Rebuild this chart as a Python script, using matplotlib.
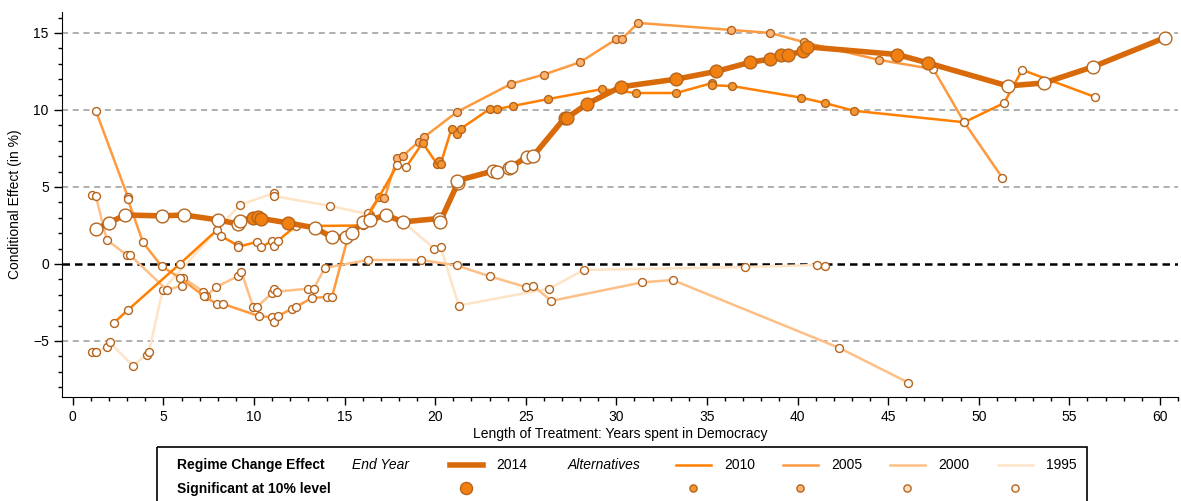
import matplotlib
matplotlib.use('Agg')
import matplotlib.pyplot as plt
from matplotlib.patches import Rectangle
from matplotlib.ticker import MultipleLocator
import numpy as np

plt.rcParams['font.family'] = ['Liberation Sans', 'DejaVu Sans']

# ---- data (x = years in democracy, y = effect in %) ----
x2014 = [1.27, 1.99, 2.87, 4.91, 6.13, 8.0, 9.1, 9.2, 9.93, 10.2, 10.4, 11.9, 13.36, 14.3, 15.1,
         15.4, 16.0, 16.4, 17.3, 18.2, 20.2, 20.25, 21.25, 21.2, 23.2, 23.4, 24.1, 24.2, 25.05,
         25.4, 27.15, 27.26, 28.4, 30.24, 33.3, 35.5, 37.4, 38.5, 39.1, 39.5, 40.3, 40.5, 45.5,
         47.2, 51.6, 53.6, 56.3, 60.3]
y2014 = [2.27, 2.66, 3.18, 3.12, 3.18, 2.86, 2.6, 2.8, 3.0, 3.05, 2.95, 2.66, 2.34, 1.75, 1.75,
         2.0, 2.7, 2.86, 3.18, 2.73, 2.95, 2.7, 5.26, 5.4, 6.04, 5.97, 6.23, 6.3, 6.95,
         7.0, 9.48, 9.48, 10.4, 11.5, 12.0, 12.5, 13.1, 13.3, 13.6, 13.6, 13.8, 14.1, 13.6,
         13.05, 11.56, 11.75, 12.8, 14.7]
s2014 = [0, 0, 0, 0, 0, 0, 0, 0, 1, 1, 1, 1, 0, 0, 0,
         0, 0, 0, 0, 0, 0, 0, 0, 0, 0, 0, 0, 0, 0,
         0, 1, 1, 1, 1, 1, 1, 1, 1, 1, 1, 1, 1, 1,
         1, 0, 0, 0, 0]

x2010 = [2.26, 3.03, 5.9, 7.95, 8.2, 9.1, 9.1, 10.15, 10.4, 11.0, 11.1, 11.3, 12.3, 16.0, 17.9,
         18.4, 19.3, 20.1, 20.2, 20.3, 20.9, 21.2, 21.4, 23.0, 23.4, 24.3, 26.2, 29.2, 31.1,
         33.3, 35.3, 35.3, 36.4, 40.2, 41.5, 43.1, 49.2, 51.4, 52.4, 56.4]
y2010 = [-3.83, -3.0, 0.0, 2.2, 1.8, 1.2, 1.1, 1.43, 1.1, 1.5, 1.17, 1.5, 2.45, 2.5, 6.4,
         6.3, 7.86, 6.5, 6.7, 6.5, 8.77, 8.44, 8.77, 10.06, 10.06, 10.26, 10.7, 11.35, 11.1,
         11.1, 11.75, 11.6, 11.55, 10.8, 10.45, 9.95, 9.2, 10.45, 12.6, 10.85]
s2010 = [0, 0, 0, 0, 0, 0, 0, 0, 0, 0, 0, 0, 0, 0, 0,
         0, 1, 1, 1, 1, 1, 1, 1, 1, 1, 1, 1, 1, 1,
         1, 1, 1, 1, 1, 1, 1, 0, 0, 0, 0]

x2005 = [1.27, 3.03, 3.03, 3.87, 4.9, 5.9, 7.25, 7.95, 8.3, 10.3, 11.0, 11.1, 11.3, 12.1, 12.3,
         13.2, 14.0, 14.3, 15.2, 16.3, 16.9, 17.2, 17.9, 18.2, 19.1, 19.4, 21.2, 24.2, 26.0,
         28.0, 30.0, 30.3, 31.2, 36.3, 38.5, 40.35, 44.5, 47.5, 49.2, 51.3]
y2005 = [9.94, 4.37, 4.2, 1.4, -0.15, -0.9, -2.1, -2.6, -2.6, -3.4, -3.45, -3.75, -3.4, -2.9, -2.8,
         -2.2, -2.15, -2.15, 1.8, 3.3, 4.35, 4.25, 6.9, 7.0, 7.95, 8.25, 9.87, 11.7, 12.3,
         13.1, 14.6, 14.6, 15.65, 15.2, 15.0, 14.4, 13.25, 12.65, 9.2, 5.6]
s2005 = [0, 0, 0, 0, 0, 0, 0, 0, 0, 0, 0, 0, 0, 0, 0,
         0, 0, 0, 0, 0, 1, 1, 1, 1, 1, 1, 1, 1, 1,
         1, 1, 1, 1, 1, 1, 1, 1, 0, 0, 0]

x2000 = [1.05, 1.27, 1.87, 2.98, 3.15, 5.2, 6.0, 6.1, 7.2, 7.35, 7.9, 9.1, 9.3, 9.95, 10.15,
         11.0, 11.1, 11.25, 13.0, 13.3, 13.9, 16.3, 19.2, 21.2, 23.0, 25.0, 25.4, 26.4, 31.4,
         33.1, 42.3, 46.1]
y2000 = [4.5, 4.4, 1.56, 0.58, 0.58, -1.7, -1.4, -0.9, -1.8, -2.1, -1.5, -0.8, -0.5, -2.8, -2.8,
         -1.9, -1.6, -1.8, -1.6, -1.6, -0.26, 0.26, 0.26, -0.1, -0.8, -1.5, -1.4, -2.4, -1.2,
         -1.04, -5.45, -7.7]
s2000 = [0] * len(x2000)

x1995 = [1.05, 1.27, 1.87, 2.04, 3.3, 4.08, 4.2, 4.95, 9.2, 11.1, 11.1, 14.2, 16.4, 18.2, 19.95,
         20.3, 21.3, 26.3, 28.2, 37.1, 41.05, 41.5]
y1995 = [-5.7, -5.7, -5.4, -5.1, -6.6, -5.9, -5.7, -1.7, 3.83, 4.6, 4.4, 3.77, 3.2, 2.75, 1.0,
         1.1, -2.7, -1.6, -0.39, -0.2, -0.07, -0.13]
s1995 = [0] * len(x1995)

edge = '#b5651d'
# label, x, y, sig, line colour, fill colour, line width, marker size
series = [
    ('1995', x1995, y1995, s1995, '#fee3c6', '#fff4ea', 1.8, 5.7),
    ('2000', x2000, y2000, s2000, '#fdbf86', '#fde2c9', 1.8, 5.7),
    ('2005', x2005, y2005, s2005, '#fd9a40', '#fdb373', 1.8, 5.7),
    ('2010', x2010, y2010, s2010, '#ff7f00', '#f5952e', 1.8, 5.7),
    ('2014', x2014, y2014, s2014, '#d86a0a', '#f28010', 4.0, 9.2),
]

fig = plt.figure(figsize=(11.81, 5.01), dpi=100)
ax = fig.add_axes([62 / 1181, 1 - 397 / 501, (1178 - 62) / 1181, (397 - 12) / 501])

for gy in [-5, 5, 10, 15]:
    ax.axhline(gy, color='#9a9a9a', lw=1.1, ls=(0, (4, 3)), zorder=1)
ax.axhline(0, color='black', lw=1.8, ls=(0, (3, 2)), zorder=1)

z = 2
for lab, xs, ys, sg, lc, fc, lw, ms in series:
    xs = np.array(xs)
    ys = np.array(ys)
    sg = np.array(sg, dtype=bool)
    ax.plot(xs, ys, color=lc, lw=lw, zorder=z, solid_capstyle='round')
    ax.plot(xs[~sg], ys[~sg], ls='none', marker='o', ms=ms, mfc='white', mec=edge, mew=1.0, zorder=z + 0.5)
    ax.plot(xs[sg], ys[sg], ls='none', marker='o', ms=ms, mfc=fc, mec=edge, mew=1.0, zorder=z + 0.5)
    z += 1

ax.set_xlim(-0.6, 61.0)
ax.set_ylim(-8.64, 16.36)
ax.xaxis.set_major_locator(MultipleLocator(5))
ax.xaxis.set_minor_locator(MultipleLocator(1))
ax.yaxis.set_major_locator(MultipleLocator(5))
ax.yaxis.set_minor_locator(MultipleLocator(1))
ax.set_yticks([-5, 0, 5, 10, 15])
ax.set_yticklabels(['\u22125', '0', '5', '10', '15'])
ax.tick_params(which='major', length=6, width=1, labelsize=10, direction='out')
ax.tick_params(which='minor', length=3, width=1)
ax.spines['top'].set_visible(False)
ax.spines['right'].set_visible(False)
ax.set_xlabel('Length of Treatment: Years spent in Democracy', fontsize=10, labelpad=2)
ax.set_ylabel('Conditional Effect (in %)', fontsize=10, labelpad=8)

# ---- legend box drawn in pixel coordinates ----
lg = fig.add_axes([0, 0, 1, 1], zorder=10)
lg.set_xlim(0, 1181)
lg.set_ylim(501, 0)
lg.axis('off')
lg.add_patch(Rectangle((157, 447), 930, 70, fill=False, ec='black', lw=1.2, clip_on=False))
r1, r2 = 465, 489
lg.text(177, r1, 'Regime Change Effect', fontsize=10, fontweight='bold', va='center')
lg.text(352, r1, 'End Year', fontsize=10, style='italic', va='center')
lg.text(568, r1, 'Alternatives', fontsize=10, style='italic', va='center')
lg.text(177, r2, 'Significant at 10% level', fontsize=10, fontweight='bold', va='center')
pos = {'2014': (450, 466), '2010': (676, 693), '2005': (783, 800), '2000': (890, 907), '1995': (998, 1015)}
for lab, xs, ys, sg, lc, fc, lw, ms in series:
    x0, xm = pos[lab]
    w = 33 if lab == '2014' else 35
    lg.plot([x0, x0 + w], [r1, r1], color=lc, lw=lw)
    lg.text(x0 + w + 13, r1, lab, fontsize=10, va='center')
    lg.plot([xm], [r2 - 1], marker='o', ms=ms - 0.5, mfc=fc, mec=edge, mew=1.0)

fig.savefig('out.png', dpi=100)
